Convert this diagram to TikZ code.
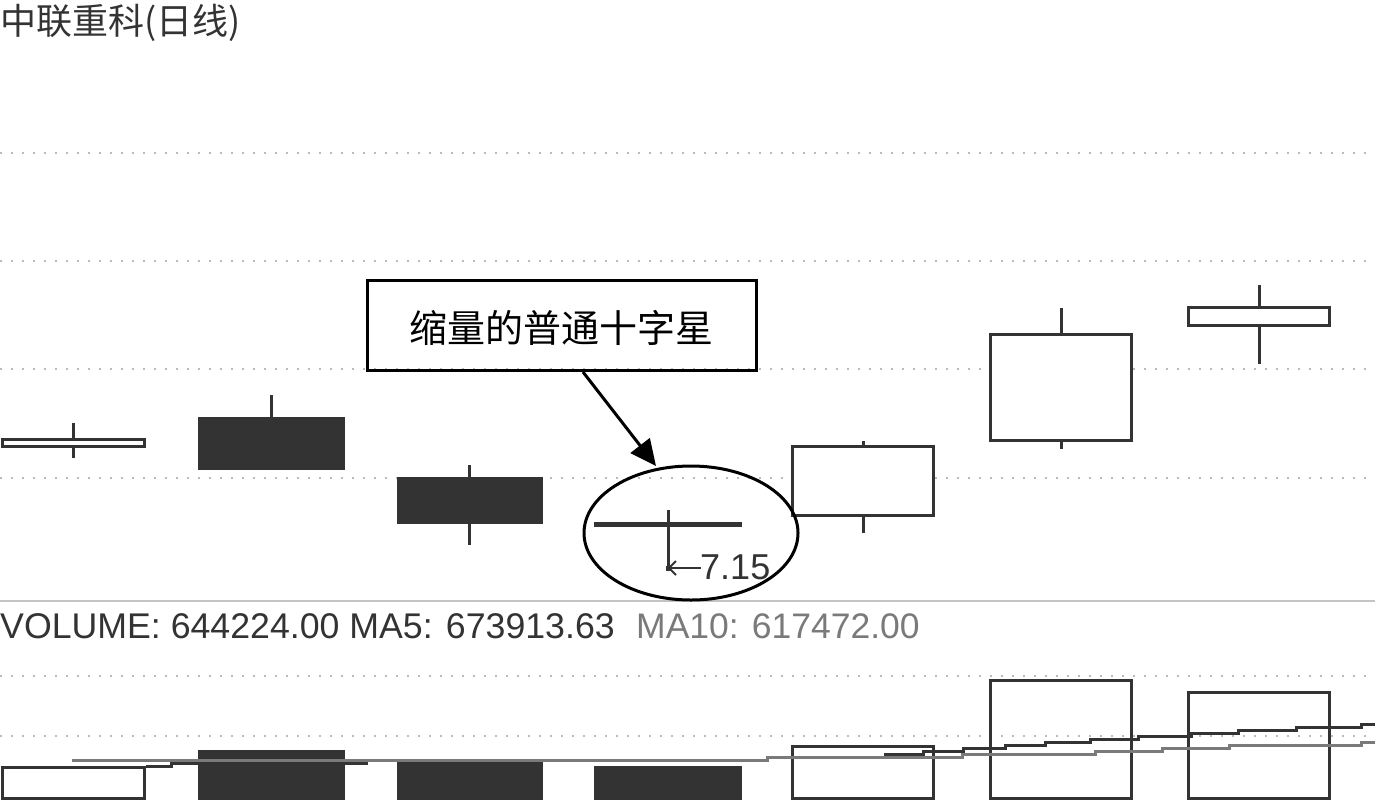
\documentclass[tikz,border=0pt]{standalone}
\usepackage{fontspec}
\setmainfont{Liberation Sans}
\newfontfamily\cjk{Noto Sans CJK SC}
\usetikzlibrary{arrows.meta,shapes.geometric}
\definecolor{ink}{HTML}{333333}
\definecolor{ma10}{HTML}{7A7A7A}
\definecolor{grid}{HTML}{BBBBBB}
\definecolor{sep}{HTML}{C4C4C4}
\tikzset{
  dotline/.style={grid, line width=2pt, dash pattern=on 2pt off 9pt},
  wick/.style={ink, line width=3pt},
  hollow/.style={draw=ink, line width=3pt, fill=white},
  solid body/.style={fill=ink},
  maline/.style={line width=3pt},
}
\begin{document}
\begin{tikzpicture}[x=1pt,y=-1pt]
\useasboundingbox[fill=white] (0,0) rectangle (1375,807);
% grid
\foreach \yy in {153,261,369,478,676,736}
  \draw[dotline] (0,\yy) -- (1375,\yy);
\draw[sep, line width=2pt] (0,601) -- (1375,601);
% title
\node[anchor=base west, inner sep=0pt, text=ink, font=\cjk\fontsize{36}{40}\selectfont] (title) at (0,34.5) {中联重科(日线)};
% candles
\draw[wick] (73,423) -- (73,458);
\draw[hollow] (2.5,439.5) rectangle (144.5,446.5);
\draw[wick] (271,395) -- (271,420);
\fill[solid body] (198,417) rectangle (345,470);
\draw[wick] (469,465) -- (469,545);
\fill[solid body] (397,477) rectangle (543,524);
\draw[wick] (668,510) -- (668,567);
\draw[ink, line width=5pt] (594,524.5) -- (742,524.5);
\draw[wick] (863,441) -- (863,533);
\draw[hollow] (792.5,446.5) rectangle (933.5,515.5);
\draw[wick] (1061,308) -- (1061,449);
\draw[hollow] (990.5,334.5) rectangle (1131.5,440.5);
\draw[wick] (1259,285) -- (1259,364);
\draw[hollow] (1188.5,307.5) rectangle (1329.5,325.5);
% 7.15 marker
\fill[ink] (665.5,565.5) rectangle (670.5,570.5);
\draw[ink, line width=2pt] (668,568) -- (701,568);
\draw[ink, line width=2pt] (676,561) -- (669,568) -- (676,575);
\node[anchor=base west, inner sep=0pt, text=ink, font=\fontsize{36}{40}\selectfont] (price) at (700,579) {7.15};
% callout
\node[draw=black, line width=3pt, minimum width=389pt, minimum height=90pt, inner sep=0pt] (callout) at (562,325.5) {};
\node[anchor=base, inner sep=0pt, font=\cjk\fontsize{38}{40}\selectfont] (calltext) at (561,342.5) {缩量的普通十字星};
\node[draw=black, line width=3pt, ellipse, minimum width=214pt, minimum height=134pt, inner sep=0pt] (doji) at (691,533) {};
\coordinate (arrowfrom) at (583,372);
\coordinate (arrowto) at (656,466);
\draw[black, line width=3pt, -{Triangle[length=26pt,width=24pt]}] (arrowfrom) -- (arrowto);
% volume header
\node[anchor=base west, inner sep=0pt, text=ink, font=\fontsize{35.7}{40}\selectfont] (vol) at (0,638) {VOLUME: 644224.00 MA5: 673913.63};
\node[anchor=base west, inner sep=0pt, text=ma10, font=\fontsize{35.5}{40}\selectfont] (ma10lbl) at (636,638) {MA10: 617472.00};
% volume bars
\draw[hollow, fill=none] (2.5,767.5) rectangle (144.5,798.5);
\fill[solid body] (198,750) rectangle (345,800);
\fill[solid body] (397,762) rectangle (543,800);
\fill[solid body] (594,766) rectangle (742,800);
\draw[hollow, fill=none] (792.5,746.5) rectangle (933.5,798.5);
\draw[hollow, fill=none] (990.5,680.5) rectangle (1131.5,798.5);
\draw[hollow, fill=none] (1188.5,692.5) rectangle (1329.5,798.5);
% MA lines
\draw[maline, ink] (146,766) -- (171,766) -- (171,763) -- (368,763);
\draw[maline, ma10] (72,760) -- (767,760) -- (767,757) -- (962,757) -- (962,754) -- (1095,754) -- (1095,751) -- (1162,751) -- (1162,748) -- (1229,748) -- (1229,745) -- (1361,745) -- (1361,742) -- (1375,742);
\draw[maline, ink] (884,754) -- (923,754) -- (923,751) -- (963,751) -- (963,748) -- (1005,748) -- (1005,745) -- (1045,745) -- (1045,742) -- (1090,742) -- (1090,739) -- (1138,739) -- (1138,736) -- (1191,736) -- (1191,733) -- (1238,733) -- (1238,730) -- (1296,730) -- (1296,727) -- (1361,727) -- (1361,724) -- (1375,724);
\end{tikzpicture}
\end{document}
